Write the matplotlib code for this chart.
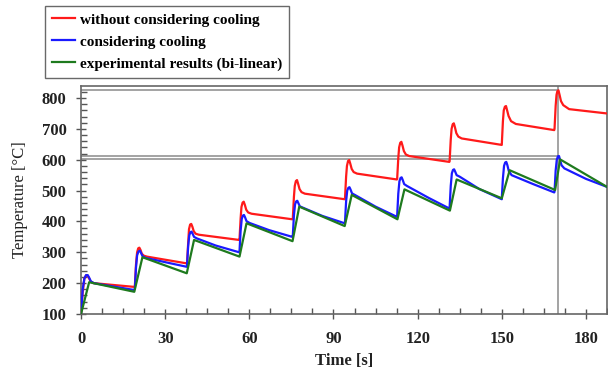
import matplotlib
matplotlib.use("Agg")
import matplotlib.pyplot as plt
from matplotlib.ticker import MultipleLocator

# ---- data ----
t_red = [0.0, 0.6, 1.2, 1.8, 2.4, 2.9, 3.5, 4.5, 18.8,
         19.2, 19.6, 20.0, 20.4, 20.8, 21.2, 21.7, 22.4, 23.5, 37.7,
         37.8, 38.2, 38.5, 38.9, 39.3, 39.7, 40.2, 40.9, 42.0, 56.4,
         56.5, 56.9, 57.2, 57.6, 58.0, 58.4, 58.9, 59.6, 60.8, 75.3,
         75.5, 75.9, 76.2, 76.6, 77.0, 77.4, 77.9, 78.6, 79.8, 94.0,
         94.1, 94.5, 94.8, 95.2, 95.6, 96.0, 96.5, 97.2, 98.4, 112.6,
         112.7, 113.1, 113.4, 113.8, 114.2, 114.6, 115.1, 115.8, 117.0, 131.3,
         131.4, 131.8, 132.1, 132.5, 132.9, 133.3, 133.8, 134.5, 135.7, 150.0,
         150.0, 150.4, 150.7, 151.1, 151.5, 151.9, 152.4, 153.3, 155.0, 168.7,
         168.8, 169.2, 169.5, 169.8, 170.2, 170.6, 171.1, 171.9, 174.0, 187.5]
T_red = [100, 170, 215, 225, 224, 215, 205, 200, 188,
         190, 260, 300, 313, 315, 308, 295, 289, 286, 264,
         266, 330, 375, 390, 392, 383, 368, 360, 357, 340,
         342, 410, 447, 461, 464, 454, 438, 429, 425, 407,
         409, 480, 515, 531, 534, 522, 505, 495, 490, 472,
         474, 545, 580, 596, 599, 587, 570, 560, 555, 536,
         538, 605, 640, 655, 658, 646, 628, 617, 612, 593,
         595, 665, 700, 715, 718, 705, 686, 675, 669, 648,
         650, 725, 760, 772, 774, 760, 742, 725, 716, 696,
         700, 775, 810, 822, 825, 810, 790, 777, 764, 750]

t_blue = [0.0, 0.6, 1.2, 1.8, 2.4, 2.9, 3.5, 4.6, 11.0, 18.8,
          19.2, 19.6, 20.0, 20.5, 21.0, 21.4, 21.9, 23.0, 30.0, 37.7,
          37.8, 38.2, 38.6, 39.0, 39.4, 39.8, 40.3, 41.3, 48.0, 56.4,
          56.5, 56.9, 57.3, 57.7, 58.1, 58.5, 59.0, 60.1, 67.0, 75.3,
          75.5, 75.9, 76.3, 76.7, 77.1, 77.5, 78.0, 79.0, 86.0, 94.0,
          94.1, 94.5, 94.9, 95.3, 95.7, 96.1, 96.6, 97.8, 105.0, 112.6,
          112.7, 113.1, 113.5, 113.9, 114.3, 114.7, 115.2, 116.2, 124.0, 131.3,
          131.4, 131.8, 132.2, 132.6, 133.0, 133.4, 133.9, 135.0, 142.0, 150.0,
          150.0, 150.4, 150.8, 151.2, 151.6, 152.0, 152.5, 153.5, 161.2, 168.7,
          168.8, 169.2, 169.6, 170.0, 170.4, 170.8, 171.3, 172.3, 180.0, 187.5]
T_blue = [100, 180, 215, 226, 226, 218, 206, 200, 190, 178,
          182, 250, 290, 303, 305, 298, 288, 282, 268, 253,
          256, 320, 355, 365, 367, 360, 350, 345, 322, 300,
          303, 370, 408, 419, 421, 413, 401, 395, 372, 350,
          353, 420, 455, 465, 467, 459, 449, 445, 418, 394,
          397, 465, 500, 509, 511, 503, 491, 485, 448, 415,
          418, 490, 530, 541, 543, 534, 521, 515, 476, 442,
          445, 515, 556, 567, 569, 561, 550, 545, 505, 472,
          475, 540, 580, 591, 593, 582, 563, 550, 521, 494,
          497, 565, 600, 611, 612, 598, 582, 572, 538, 512]

t_green = [0.0, 2.9, 19.0, 21.9, 37.7, 40.3, 56.5, 59.0,
           75.4, 77.8, 94.0, 96.5, 112.8, 115.3, 131.5, 133.9,
           150.0, 152.8, 169.0, 170.8, 187.5]
T_green = [100, 203, 172, 284, 232, 340, 286, 394,
           336, 448, 385, 486, 407, 504, 435, 536,
           475, 566, 502, 601, 512]

ref_levels = [825, 612, 601]
ref_time = 170.1

labels = ["without considering cooling", "considering cooling",
          "experimental results (bi-linear)"]
x_ticks = [0, 30, 60, 90, 120, 150, 180]
y_ticks = [100, 200, 300, 400, 500, 600, 700, 800]

# ---- plotting ----
plt.rcParams['font.family'] = ['Liberation Serif', 'DejaVu Serif']
fig = plt.figure(figsize=(6.08, 3.74), dpi=100)
ax = fig.add_axes([81/608, 1 - 314/374, 526/608, (314 - 86)/374])

ref_col = '#8a8a8a'
for lv in ref_levels:
    ax.plot([0, ref_time], [lv, lv], color=ref_col, lw=1.1, zorder=1)
ax.axvline(ref_time, color=ref_col, lw=1.1, zorder=1)

l1, = ax.plot(t_red, T_red, color='#ff1a1a', lw=1.6, zorder=3)
l2, = ax.plot(t_blue, T_blue, color='#1a1aff', lw=1.6, zorder=4)
l3, = ax.plot(t_green, T_green, color='#1e7a1e', lw=1.6, zorder=5)

ax.set_xlim(0, 187.5)
ax.set_ylim(100, 839)
ax.set_xticks(x_ticks)
ax.set_yticks(y_ticks)
ax.xaxis.set_minor_locator(MultipleLocator(7.5))
ax.yaxis.set_minor_locator(MultipleLocator(20))
ax.tick_params(which='major', direction='inout', length=7, width=1,
               color='#555555', labelsize=12)
ax.tick_params(axis='x', which='major', pad=9)
ax.tick_params(axis='y', which='major', pad=7)
ax.tick_params(which='minor', direction='in', length=4, width=1,
               color='#555555')
for lab in ax.get_xticklabels() + ax.get_yticklabels():
    lab.set_fontweight('bold')
    lab.set_color('#222222')
for sp in ax.spines.values():
    sp.set_color('#666666')
    sp.set_linewidth(1.2)

ax.set_xlabel('Time [s]', fontsize=12, fontweight='bold', color='#222222', labelpad=4)
ax.set_ylabel('Temperature [°C]', fontsize=12, color='#222222', labelpad=10)

leg = fig.legend([l1, l2, l3], labels, loc='upper left',
                 bbox_to_anchor=(45/608, 1 - 6/374), frameon=True, fancybox=False,
                 prop={'family': 'Liberation Serif', 'weight': 'bold', 'size': 11},
                 handlelength=1.5, handletextpad=0.35, labelspacing=0.55,
                 borderpad=0.45, borderaxespad=0)
leg.get_frame().set_edgecolor('#444444')
leg.get_frame().set_linewidth(1.0)
for h in leg.get_lines():
    h.set_linewidth(1.6)

fig.savefig('out.png', dpi=100)
